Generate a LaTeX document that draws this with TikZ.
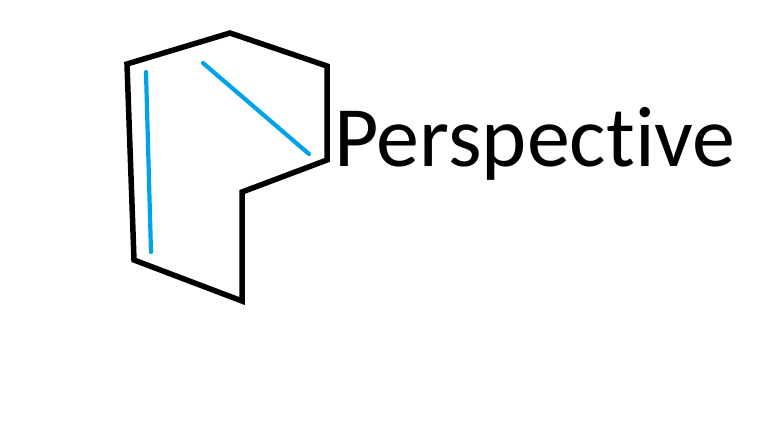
\documentclass[tikz,border=0pt]{standalone}
\usepackage{fontspec}
\setmainfont[Ligatures=NoCommon]{Carlito}
\usetikzlibrary{positioning}
\definecolor{cInk}{HTML}{000000}
\definecolor{cSky}{HTML}{00A2E8}
\tikzset{
  outline/.style={draw=cInk, line width=5.5pt, line join=miter},
  stroke/.style={draw=cSky, line width=4.2pt, line cap=round},
  title/.style={font=\fontsize{86}{100}\selectfont, text=cInk,
    anchor=base west, inner sep=0pt},
}
\begin{document}
\begin{tikzpicture}[x=1pt, y=-1pt]
\useasboundingbox (0,0) rectangle (768,432);
% ---------------------------------------------------------------- outline
\draw[outline] (127,64) -- (230,33) -- (327,66) -- (327,160)
  -- (242,192) -- (242,301) -- (134,260) -- cycle;
% ---------------------------------------------------------------- strokes
\draw[stroke] (146,72) -- (151,252);
\draw[stroke] (203,63) -- (309,154);
% ---------------------------------------------------------------- label
\node[title] (persp) at (334,166) {Perspective};
\end{tikzpicture}
\end{document}
